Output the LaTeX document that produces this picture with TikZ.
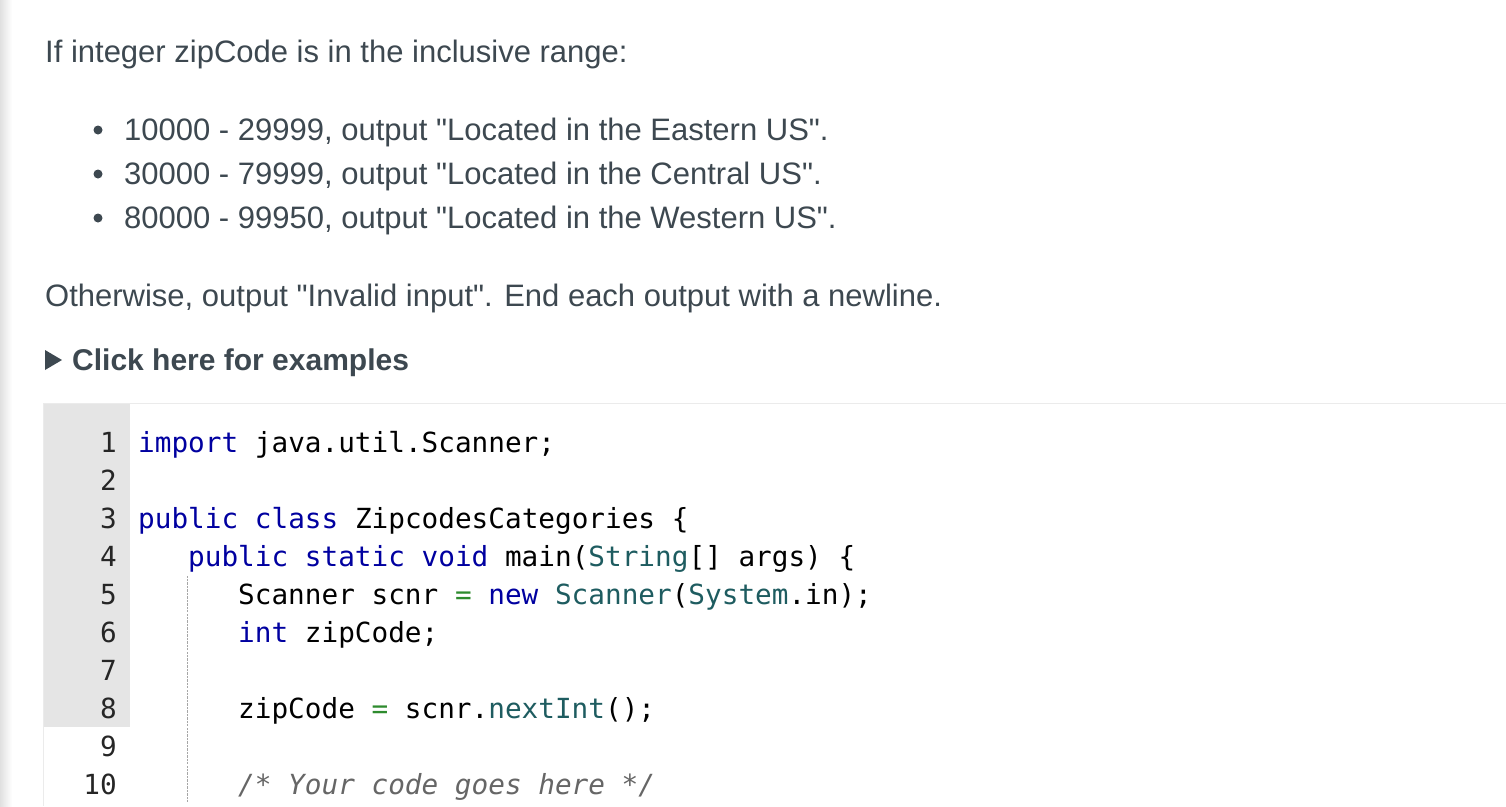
\documentclass[tikz,border=0pt]{standalone}
\usepackage{fontspec}
\setmainfont{Liberation Sans}
\newfontfamily\bodyf{Liberation Sans}
\setmonofont{DejaVu Sans Mono}
\begin{document}
\begin{tikzpicture}[x=1pt,y=-1pt,
  txt/.style={anchor=base west,inner sep=0pt,text=txtc,font=\bodyf\fontsize{31}{34}\selectfont},
  code/.style={anchor=base west,inner sep=0pt,font=\ttfamily\fontsize{27.7}{32}\selectfont},
  num/.style={anchor=base east,inner sep=0pt,text=black!85,font=\ttfamily\fontsize{27.7}{32}\selectfont}]
\definecolor{txtc}{HTML}{3D4850}
\definecolor{kw}{HTML}{0000A0}
\definecolor{tl}{HTML}{1E5C60}
\definecolor{eqc}{HTML}{2E8B2E}
\definecolor{cm}{HTML}{666666}
\def\q{{\char34}}
\useasboundingbox (0,0) rectangle (1506,806);
\fill[white] (0,0) rectangle (1506,806);
\shade[left color=black!12,right color=white] (0,0) rectangle (12,806);
% code box
\draw[black!8] (43,806) -- (43,403) -- (1506,403);
\fill[black!10] (43.5,403.5) rectangle (130,727);
\foreach \yy in {594,632,670,708,746,784}{\draw[black!35,densely dotted] (187,\yy-18) -- (187,\yy+18);}
% text
\node[txt] (t1) at (45,62) {If integer zipCode is in the inclusive range:};
\foreach \yy/\s [count=\i] in {140/{10000 - 29999, output \q Located in the Eastern US\q.},184/{30000 - 79999, output \q Located in the Central US\q.},228/{80000 - 99950, output \q Located in the Western US\q.}}{
  \fill[txtc] (98,\yy-10) circle (4.5);
  \node[txt] (b\i) at (124,\yy) {\s};}
\node[txt] (t2) at (45,306) {Otherwise, output \q Invalid input\q. End each output with a newline.};
\fill[txtc] (45,350) -- (62,360) -- (45,370) -- cycle;
\node[txt,font=\bodyf\bfseries\fontsize{30}{34}\selectfont] (t3) at (72,370) {Click here for examples};
% line numbers
\foreach \i in {1,...,9}{\node[num] (n\i) at (117,{452+38*(\i-1)}) {\i};}
\node[num] (n10) at (117,794) {10};
\node[code] (c1) at (138,452) {\textcolor{kw}{import} java.util.Scanner;};
\node[code] (c3) at (138,528) {\textcolor{kw}{public class} ZipcodesCategories \{};
\node[code] (c4) at (188,566) {\textcolor{kw}{public static void} main(\textcolor{tl}{String}[] args) \{};
\node[code] (c5) at (238,604) {Scanner scnr \textcolor{eqc}{=} \textcolor{kw}{new} \textcolor{tl}{Scanner}(\textcolor{tl}{System}.in);};
\node[code] (c6) at (238,642) {\textcolor{kw}{int} zipCode;};
\node[code] (c8) at (238,718) {zipCode \textcolor{eqc}{=} scnr.\textcolor{tl}{nextInt}();};
\node[code,text=cm] (c10) at (238,794) {\itshape /* Your code goes here */};
\end{tikzpicture}
\end{document}
